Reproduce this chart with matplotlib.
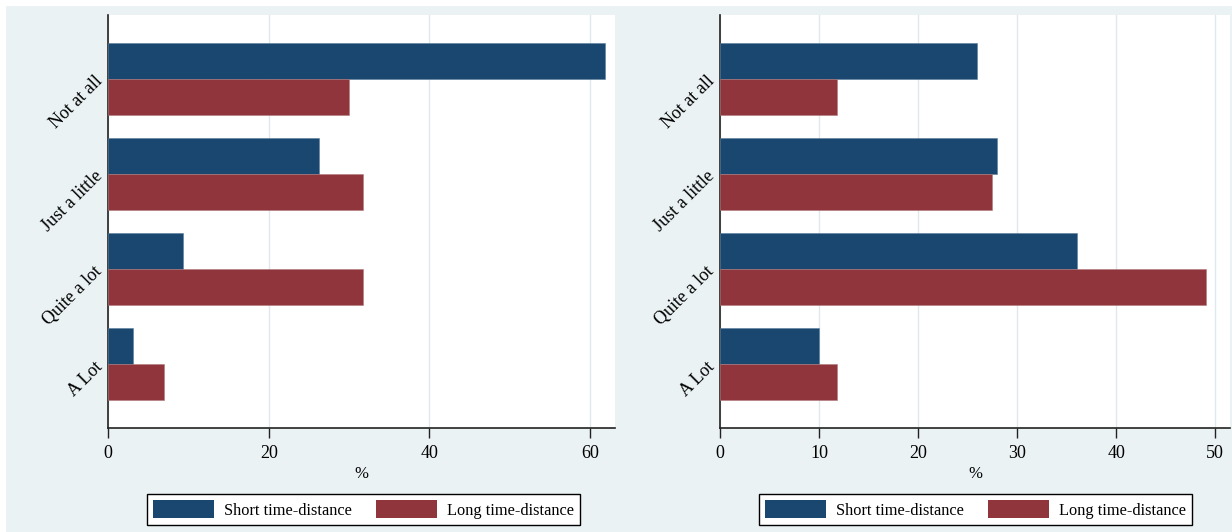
import matplotlib
matplotlib.use("Agg")
import matplotlib.pyplot as plt
from matplotlib.patches import Patch, Rectangle
import numpy as np

categories = ["Not at all", "Just a little", "Quite a lot", "A Lot"]
series_names = ["Short time-distance", "Long time-distance"]
left_short = [61.9, 26.2, 9.3, 3.1]
left_long = [30.0, 31.7, 31.7, 7.0]
right_short = [26.0, 28.0, 36.0, 10.0]
right_long = [11.8, 27.5, 49.1, 11.8]
left_ticks = [0, 20, 40, 60]
right_ticks = [0, 10, 20, 30, 40, 50]
xlabel = "%"

NAVY = "#1a476f"
MAROON = "#90353b"
BG = "#eaf2f3"
GRID = "#dfe9ec"

plt.rcParams['font.family'] = ['Liberation Serif', 'DejaVu Serif']

W, H = 1232, 532
fig = plt.figure(figsize=(W / 100, H / 100), dpi=100)
fig.patch.set_facecolor("white")
# panel background (white margin top/left)
fig.patches.append(Rectangle((6 / W, 0), 1 - 6 / W, 1 - 6 / H, transform=fig.transFigure,
                             facecolor=BG, edgecolor="none", zorder=-10))


def panel(rect, short, long_, ticks, xmax, legend_cx):
    ax = fig.add_axes(rect)
    ax.set_facecolor("white")
    n = len(categories)
    ypos = np.arange(n)[::-1]
    h = 0.378
    ax.barh(ypos + h / 2, short, height=h, color=NAVY, edgecolor="#5a7d9c", linewidth=0.4, zorder=3)
    ax.barh(ypos - h / 2, long_, height=h, color=MAROON, edgecolor="#b07a7e", linewidth=0.4, zorder=3)
    ax.set_ylim(-0.667, n - 1 + 0.667)
    ax.set_xlim(0, xmax)
    ax.set_yticks(ypos)
    ax.set_yticklabels(categories, rotation=45, ha="right", va="center",
                       rotation_mode="anchor", fontsize=13)
    ax.tick_params(axis="y", length=0, pad=6)
    ax.set_xticks(ticks)
    ax.set_xticklabels([str(t) for t in ticks], fontsize=13)
    ax.tick_params(axis="x", length=7, width=1, pad=5, color="#222222")
    ax.grid(axis="x", color=GRID, linewidth=1, zorder=0)
    ax.set_axisbelow(True)
    for s in ["top", "right"]:
        ax.spines[s].set_visible(False)
    for s in ["left", "bottom"]:
        ax.spines[s].set_color("#222222")
        ax.spines[s].set_linewidth(1.2)
    ax.set_xlabel(xlabel, fontsize=12, labelpad=3)
    handles = [Patch(facecolor=NAVY, edgecolor="none"), Patch(facecolor=MAROON, edgecolor="none")]
    leg = fig.legend(handles, series_names, loc="center", bbox_to_anchor=(legend_cx, 1 - 509.5 / H),
                     ncol=2, frameon=True, fancybox=False, fontsize=11.8,
                     handlelength=3.7, handleheight=1.25, handletextpad=0.6,
                     columnspacing=1.5, borderpad=0.4)
    fr = leg.get_frame()
    fr.set_edgecolor("black")
    fr.set_linewidth(1.0)
    fr.set_facecolor("white")
    fr.set_alpha(1)
    return ax


panel([108 / W, 1 - 428 / H, 507 / W, 413 / H], left_short, left_long, left_ticks, 63.1, 363.5 / W)
panel([720 / W, 1 - 428 / H, 510 / W, 413 / H], right_short, right_long, right_ticks, 51.5, 975.5 / W)

fig.savefig("out.png", dpi=100, facecolor=fig.get_facecolor())
